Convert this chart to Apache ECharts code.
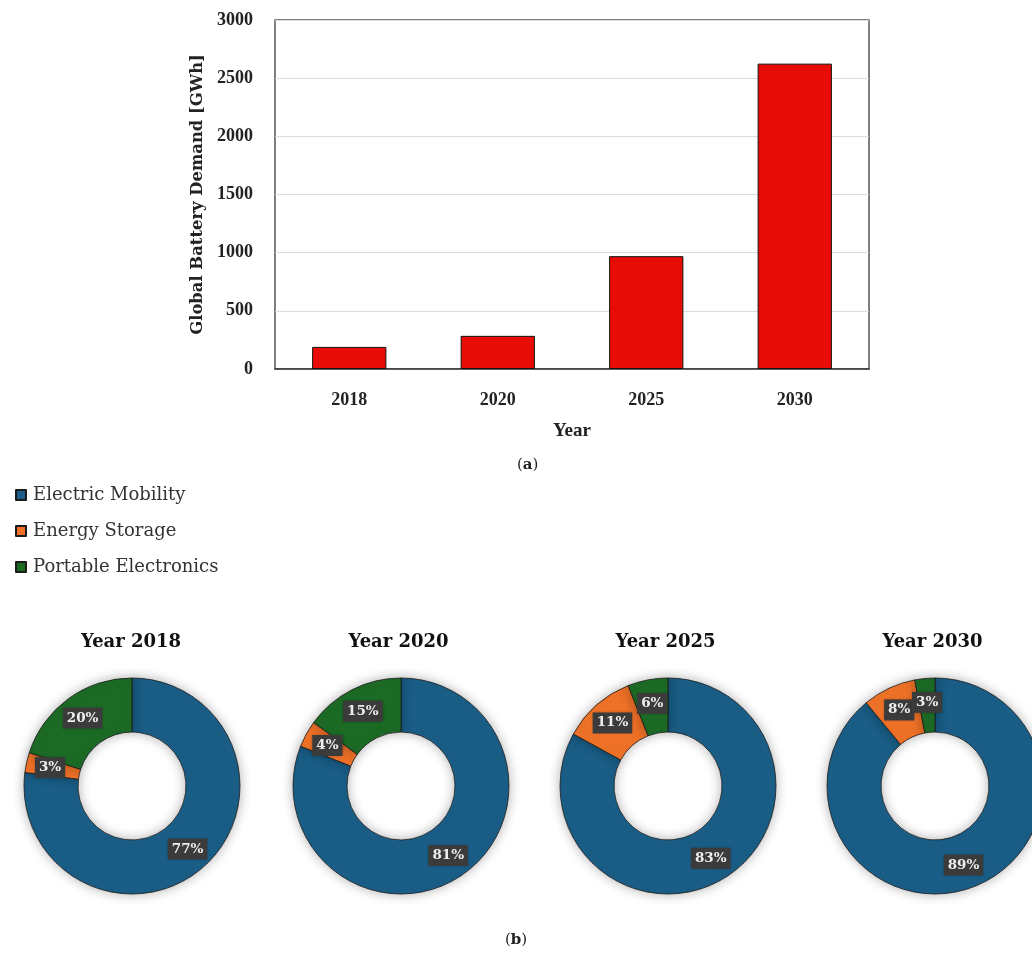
<!DOCTYPE html>
<html>
<head>
<meta charset="utf-8">
<style>
  html, body { margin: 0; padding: 0; background: #fff; }
  #chart { width: 1032px; height: 956px; }
</style>
<script src="https://cdn.jsdelivr.net/npm/echarts@6/dist/echarts.min.js"></script>
</head>
<body>
<div id="chart"></div>
<script>
// Global battery demand by year (GWh)
const years = ['2018', '2020', '2025', '2030'];
const demandGWh = [190, 285, 970, 2625];
const yTicks = { min: 0, max: 3000, interval: 500 };

// Demand share by application (%)
const segments = ['Electric Mobility', 'Energy Storage', 'Portable Electronics'];
const segmentColors = ['#1a5e87', '#f07228', '#1c6b25'];
const shares = {
  '2018': [77, 3, 20],
  '2020': [81, 4, 15],
  '2025': [83, 11, 6],
  '2030': [89, 8, 3]
};

const serifBold = 'Liberation Serif';
const serifWide = 'DejaVu Serif';

const pieCentersX = [132, 401, 668, 935];
const pieCenterY = 786;
const titleCentersX = [126, 393.5, 660.5, 927.5];

const chart = echarts.init(document.getElementById('chart'), null, { renderer: 'canvas' });

const titles = years.map((y, i) => ({
  text: 'Year ' + y,
  left: titleCentersX[i],
  top: 628,
  textAlign: 'center',
  textStyle: { fontFamily: serifWide, fontWeight: 'bold', fontSize: 18, color: '#111' }
}));

const pieSeries = years.map((y, i) => ({
  type: 'pie',
  name: 'Year ' + y,
  center: [pieCentersX[i], pieCenterY],
  radius: [54, 108],
  startAngle: 90,
  clockwise: true,
  avoidLabelOverlap: false,
  silent: true,
  labelLayout: { hideOverlap: false },
  itemStyle: {
    borderColor: '#1a1a1a',
    borderWidth: 0.8,
    shadowBlur: 12,
    shadowColor: 'rgba(0,0,0,0.3)'
  },
  label: {
    show: true,
    position: 'inside',
    formatter: '{c}%',
    fontFamily: serifWide,
    fontWeight: 'bold',
    fontSize: 13.5,
    color: '#eeeeee',
    backgroundColor: '#3b3b3b',
    padding: [4, 4, 3, 4],
    shadowBlur: 3,
    shadowColor: 'rgba(0,0,0,0.3)'
  },
  labelLine: { show: false },
  data: segments.map((s, k) => ({
    name: s,
    value: shares[y][k],
    itemStyle: { color: segmentColors[k] }
  }))
}));

const option = {
  backgroundColor: '#fff',
  animation: false,
  title: titles,
  legend: {
    data: segments,
    orient: 'vertical',
    left: 10,
    top: 481,
    icon: 'rect',
    itemWidth: 10,
    itemHeight: 10,
    itemGap: 18,
    textStyle: { fontFamily: serifWide, fontSize: 18, color: '#333', padding: [0, 0, 0, 2] }
  },
  grid: {
    left: 275,
    top: 20,
    width: 594,
    height: 349,
    show: true,
    borderColor: '#555',
    borderWidth: 1.5,
    containLabel: false
  },
  xAxis: {
    type: 'category',
    data: years,
    name: 'Year',
    nameLocation: 'middle',
    nameGap: 53,
    nameTextStyle: { fontFamily: serifBold, fontWeight: 'bold', fontSize: 19, color: '#222' },
    axisLine: { lineStyle: { color: '#333', width: 1.5 } },
    axisTick: { show: false },
    axisLabel: { margin: 22, fontFamily: serifBold, fontWeight: 'bold', fontSize: 18, color: '#222' }
  },
  yAxis: {
    type: 'value',
    min: yTicks.min,
    max: yTicks.max,
    interval: yTicks.interval,
    name: 'Global Battery Demand [GWh]',
    nameLocation: 'middle',
    nameGap: 64,
    nameTextStyle: { fontFamily: serifWide, fontWeight: 'bold', fontSize: 16.4, color: '#222' },
    axisLine: { show: false },
    axisTick: { show: false },
    splitLine: { lineStyle: { color: '#dcdcdc', width: 1 } },
    axisLabel: {
      margin: 22,
      formatter: v => String(v),
      fontFamily: serifBold, fontWeight: 'bold', fontSize: 18, color: '#222'
    }
  },
  series: [
    {
      type: 'bar',
      data: demandGWh,
      barWidth: '50%',
      silent: true,
      itemStyle: { color: '#e80c06', borderColor: '#111', borderWidth: 1 }
    },
    ...pieSeries
  ],
  graphic: [
    {
      type: 'text',
      left: 517,
      top: 458,
      style: {
        text: '({a|a})',
        rich: { a: { fontFamily: serifWide, fontWeight: 'bold', fontSize: 15, fill: '#222' } },
        font: '15px "DejaVu Serif"',
        fill: '#222'
      }
    },
    {
      type: 'text',
      left: 505,
      top: 933,
      style: {
        text: '({b|b})',
        rich: { b: { fontFamily: serifWide, fontWeight: 'bold', fontSize: 15, fill: '#222' } },
        font: '15px "DejaVu Serif"',
        fill: '#222'
      }
    }
  ]
};

chart.setOption(option);
</script>
</body>
</html>
